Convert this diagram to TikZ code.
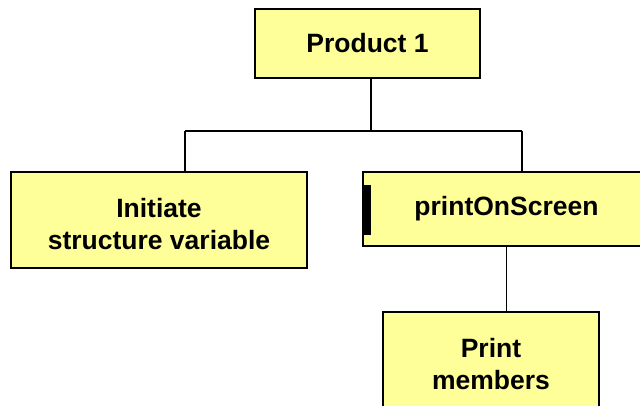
\documentclass[tikz,border=0pt]{standalone}
\usepackage{fontspec}
\setmainfont{Liberation Sans}
\usepackage{tikz}
\usetikzlibrary{positioning, calc}
\usepackage{xcolor}
\definecolor{boxyellow}{HTML}{FFFF99}

\tikzset{
  chartbox/.style={draw=black, line width=2.4pt, fill=boxyellow, inner sep=0pt,
    align=center, font=\fontsize{26.5}{32}\selectfont\bfseries},
  link/.style={line width=1.6pt}
}

\begin{document}
\begin{tikzpicture}[x=1pt, y=-1pt]
\path[use as bounding box, fill=white] (0,0) rectangle (640,405);

% Top
\node[chartbox, minimum width=225, minimum height=69] (prod) at (367.5,43.5) {Product 1};

% Second level
\node[chartbox, minimum width=296, minimum height=96] (init) at (159,220) {\rule{0pt}{27pt}Initiate\\structure variable};
\node[chartbox, minimum width=287, minimum height=74] (print) at (506.5,209) {printOnScreen};
\node[fill=black, inner sep=0pt, minimum width=9, minimum height=50] (bar) at (366.5,210) {};

% Third level
\node[chartbox, minimum width=216, minimum height=96] (members) at (491,360) {\rule{0pt}{27pt}Print\\members};

% Connectors
\coordinate (bus) at (371,131);
\coordinate (busL) at (185,131);
\coordinate (busR) at (522,131);
\draw[link] (prod.south -| bus) -- (bus);
\draw[link] (busL) -- (busR);
\draw[link] (busL) -- (init.north -| busL);
\draw[link] (busR) -- (print.north -| busR);
\draw[link] (print.south) -- (print.south |- members.north);
\end{tikzpicture}
\end{document}
